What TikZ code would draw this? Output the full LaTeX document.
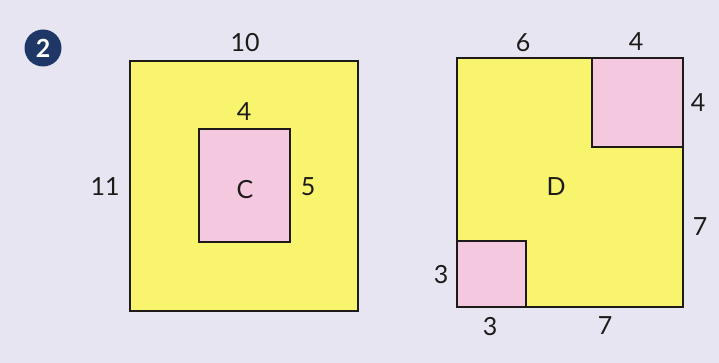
\documentclass[tikz,border=0pt]{standalone}
\usepackage{fontspec}
\setmainfont{Lato}
\definecolor{bg}{HTML}{E7E5F1}
\definecolor{yel}{HTML}{F8F46E}
\definecolor{pnk}{HTML}{F4C8DF}
\definecolor{navy}{HTML}{1F3766}
\definecolor{ink}{HTML}{1E1A1A}
\begin{document}
\begin{tikzpicture}[x=1pt,y=-1pt,
  shape line/.style={draw=ink,line width=2.8pt,line join=miter},
  lbl/.style={font=\fontsize{25}{28}\selectfont,text=ink,inner sep=0pt}]
\fill[bg] (0,0) rectangle (719,363);
\useasboundingbox (0,0) rectangle (719,363);
% badge
\node[circle,fill=navy,minimum size=37pt,inner sep=0pt,text=white,font=\bfseries\fontsize{25}{27}\selectfont] (badge) at (43,48) {2};
% figure C
\filldraw[shape line,fill=yel] (130,61) rectangle (358,311);
\filldraw[shape line,fill=pnk] (199,129) rectangle (290,242);
\node[lbl] (c10) at (245,43) {10};
\node[lbl] (c4) at (244,112) {4};
\node[lbl] (c11) at (105,187) {11};
\node[lbl] (cC) at (245,190) {C};
\node[lbl] (c5) at (308,187) {5};
% figure D
\filldraw[shape line,fill=yel] (457,58) rectangle (683,307);
\filldraw[shape line,fill=pnk] (592,58) -- (683,58) -- (683,147) -- (592,147) -- cycle;
\filldraw[shape line,fill=pnk] (457,241) -- (526,241) -- (526,307) -- (457,307) -- cycle;
\draw[shape line] (457,58) rectangle (683,307);
\node[lbl] (d6) at (523,43) {6};
\node[lbl] (d4a) at (636,42) {4};
\node[lbl] (d4b) at (698,103) {4};
\node[lbl] (dD) at (556,187) {D};
\node[lbl] (d7a) at (700,227) {7};
\node[lbl] (d3a) at (441,275) {3};
\node[lbl] (d3b) at (490,327) {3};
\node[lbl] (d7b) at (605,326) {7};
\end{tikzpicture}
\end{document}
